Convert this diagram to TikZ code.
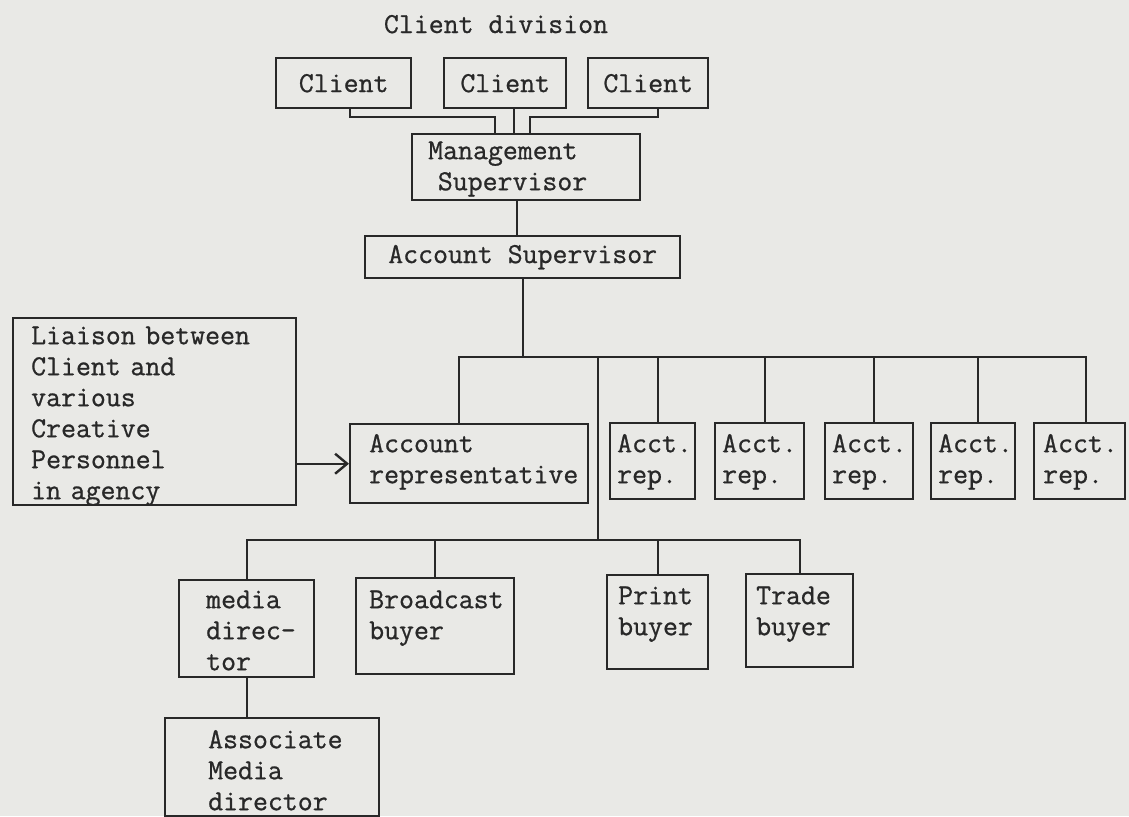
\documentclass[tikz,border=0pt]{standalone}
\usepackage{fontspec}
\usetikzlibrary{arrows.meta}
\newfontfamily\typewriter{Latin Modern Mono}[HyphenChar=None, FakeBold=0.8]
\newcommand{\typed}{\typewriter\fontsize{14.5}{15.5}\selectfont}
\definecolor{paper}{RGB}{233,233,230}
\definecolor{ink}{RGB}{40,40,40}
\tikzset{box/.style={draw=ink, line width=1.2pt, anchor=north west, inner ysep=0pt, align=left, text=ink, font=\typed},
    plainbox/.style={draw=ink, line width=1.2pt, anchor=north west, inner sep=0pt, text=ink, font=\typed},
    link/.style={draw=ink, line width=1.2pt},
    feed/.style={link, -{Straight Barb[length=6pt,width=10pt]}}}

\begin{document}
\begin{tikzpicture}[x=0.5pt, y=-0.5pt]

 \useasboundingbox (0,0) rectangle (1129,816);
 \fill[paper] (0,0) rectangle (1129,816);

 \node[font=\typed, text=ink, anchor=base] (title) at (496,33) {Client division};

 % clients and supervisors
 \node[plainbox, minimum width=67.5pt, minimum height=25pt] (cl1) at (275,57) {Client};
 \node[plainbox, minimum width=61pt, minimum height=25pt] (cl2) at (443,57) {Client};
 \node[plainbox, minimum width=60pt, minimum height=25pt] (cl3) at (587,57) {Client};
 \node[box, inner xsep=8pt, text width=98pt, text height=12.5pt, text depth=20.5pt] (mgmt) at (411,133) {Management\\\ Supervisor};
 \node[plainbox, minimum width=157.5pt, minimum height=21pt] (asup) at (364,235) {Account Supervisor};

 % account level
 \node[box, inner xsep=9pt, text width=123.5pt, text height=13pt, text depth=80.5pt] (liaison) at (12,317) {Liaison between\\Client and\\various\\Creative\\Personnel\\in agency};
 \node[box, inner xsep=9.5pt, text width=100pt, text height=14pt, text depth=25.5pt] (arep) at (349,423) {Account\\representative};
 \node[box, inner xsep=3.5pt, text width=35.5pt, text height=14.5pt, text depth=23.5pt] (r1) at (609,422) {Acct.\\rep.};
 \node[box, inner xsep=3.5pt, text width=37.5pt, text height=14.5pt, text depth=23.5pt] (r2) at (714,422) {Acct.\\rep.};
 \node[box, inner xsep=3.5pt, text width=37pt, text height=14.5pt, text depth=23.5pt] (r3) at (824,422) {Acct.\\rep.};
 \node[box, inner xsep=3.5pt, text width=35pt, text height=14.5pt, text depth=23.5pt] (r4) at (930,422) {Acct.\\rep.};
 \node[box, inner xsep=4.5pt, text width=36.5pt, text height=14.5pt, text depth=23.5pt] (r5) at (1033,422) {Acct.\\rep.};

 % media level
 \node[box, inner xsep=13.5pt, text width=40.5pt, text height=14pt, text depth=34.5pt] (media) at (178,579) {media\\direc-\\tor};
 \node[box, inner xsep=6.5pt, text width=66pt, text height=15pt, text depth=33pt] (broad) at (355,577) {Broadcast\\buyer};
 \node[box, inner xsep=5.5pt, text width=39.5pt, text height=14.5pt, text depth=32.5pt] (print) at (606,574) {Print\\buyer};
 \node[box, inner xsep=5pt, text width=43.5pt, text height=15pt, text depth=31.5pt] (trade) at (745,573) {Trade\\buyer};
 \node[box, inner xsep=21.5pt, text width=64pt, text height=15pt, text depth=34pt] (assoc) at (164,717) {Associate\\Media\\director};

 % connectors
 \coordinate (m1) at (495,117);
 \coordinate (m3) at (530,117);
 \coordinate (repbus) at (598,357);
 \coordinate (buybus) at (598,540);

 \draw[link] ([xshift=3.25pt]cl1.south) |- (m1) -- (m1 |- mgmt.north);
 \draw[link] ([xshift=4.5pt]cl2.south) -- ([xshift=4.5pt]cl2.south |- mgmt.north);
 \draw[link] ([xshift=5pt]cl3.south) |- (m3) -- (m3 |- mgmt.north);
 \draw[link] ([xshift=-4.5pt]mgmt.south) -- ([xshift=-4.5pt]mgmt.south |- asup.north);
 \draw[link] (asup.south) -- (asup.south |- repbus);

 \draw[link] ([xshift=-5pt]arep.north) |- (repbus) -| ([xshift=3pt]r5.north);
 \draw[link] ([xshift=2.5pt]r1.north) -- ([xshift=2.5pt]r1.north |- repbus);
 \draw[link] ([xshift=2.5pt]r2.north) -- ([xshift=2.5pt]r2.north |- repbus);
 \draw[link] ([xshift=2.5pt]r3.north) -- ([xshift=2.5pt]r3.north |- repbus);
 \draw[link] ([xshift=2.5pt]r4.north) -- ([xshift=2.5pt]r4.north |- repbus);
 \draw[feed] (arep.west -| liaison.east) -- (arep.west);

 \draw[link] (repbus) -- (buybus);
 \draw[link] (media.north) |- (buybus) -| (trade.north);
 \draw[link] (broad.north) -- (broad.north |- buybus);
 \draw[link] (print.north) -- (print.north |- buybus);
 \draw[link] (media.south) -- (media.south |- assoc.north);

\end{tikzpicture}
\end{document}
